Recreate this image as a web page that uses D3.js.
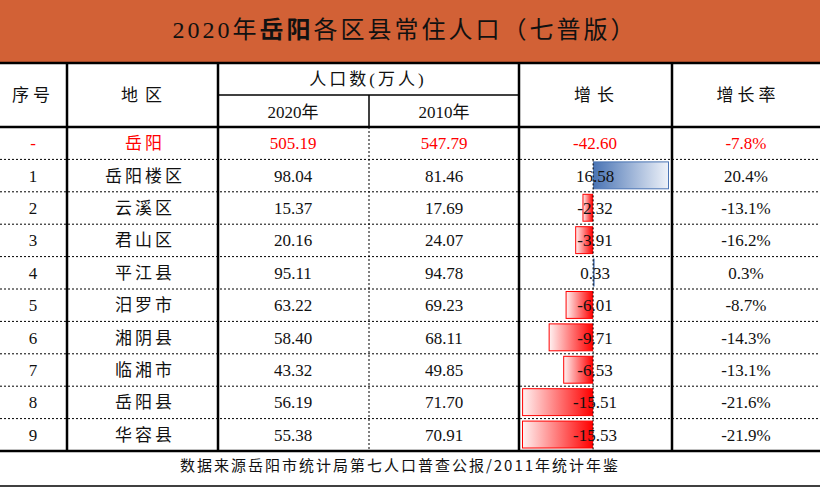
<!DOCTYPE html>
<html><head><meta charset="utf-8">
<script src="https://cdn.jsdelivr.net/npm/d3@7"></script>
<style>
html,body{margin:0;padding:0;background:#fff;}
svg{display:block;}
text{font-family:"Liberation Serif","Times New Roman","Noto Sans CJK SC",serif;}
</style></head>
<body>
<svg id="c" width="820" height="500"></svg>
<script>
const titlePrefix = "2020年";
const titleBold = "岳阳";
const titleSuffix = "各区县常住人口（七普版）";
const seq = ["-", "1", "2", "3", "4", "5", "6", "7", "8", "9"];
const regions = ["岳阳", "岳阳楼区", "云溪区", "君山区", "平江县", "汨罗市", "湘阴县", "临湘市", "岳阳县", "华容县"];
const pop2020 = ["505.19", "98.04", "15.37", "20.16", "95.11", "63.22", "58.40", "43.32", "56.19", "55.38"];
const pop2010 = ["547.79", "81.46", "17.69", "24.07", "94.78", "69.23", "68.11", "49.85", "71.70", "70.91"];
const growth = [-42.60, 16.58, -2.32, -3.91, 0.33, -6.01, -9.71, -6.53, -15.51, -15.53];
const rate = ["-7.8%", "20.4%", "-13.1%", "-16.2%", "0.3%", "-8.7%", "-14.3%", "-13.1%", "-21.6%", "-21.9%"];
const headers = {seq:"序号", region:"地区", pop:"人口数(万人)", y2020:"2020年", y2010:"2010年", growth:"增长", rate:"增长率"};
const footer = "数据来源岳阳市统计局第七人口普查公报/2011年统计年鉴";

const svg = d3.select("#c");
const W = 820;
const cjk = '"Noto Sans CJK SC","Liberation Serif",serif';
const serif = '"Liberation Serif","Noto Sans CJK SC",serif';

// defs gradients
const defs = svg.append("defs");
const gp = defs.append("linearGradient").attr("id","gPos").attr("x1","0").attr("x2","1").attr("y1","0").attr("y2","0");
gp.append("stop").attr("offset","0%").attr("stop-color","#4a74b4");
gp.append("stop").attr("offset","100%").attr("stop-color","#eef2f9");
const gn = defs.append("linearGradient").attr("id","gNeg").attr("x1","0").attr("x2","1").attr("y1","0").attr("y2","0");
gn.append("stop").attr("offset","0%").attr("stop-color","#fff2f2");
gn.append("stop").attr("offset","100%").attr("stop-color","#ff0000");

// title band
svg.append("rect").attr("x",0).attr("y",0).attr("width",W).attr("height",62).attr("fill","#d26136");
const tt = svg.append("text").attr("x",405).attr("y",38).attr("text-anchor","middle")
  .attr("font-size",24).attr("fill","#111").style("letter-spacing","3px");
tt.append("tspan").style("font-family",serif).text(titlePrefix);
tt.append("tspan").style("font-family",cjk).attr("font-weight","bold").text(titleBold);
tt.append("tspan").style("font-family",cjk).text(titleSuffix);

// columns
const cols = {x0:0, x1:67, x2:218, x3:369, x4:519, x5:672, x6:820};
const cx = {seq:33, region:143, y2020:293, y2010:444, growth:595, rate:746};

// rows
const y = d3.scaleBand().domain(d3.range(regions.length)).range([127, 451]).padding(0);

// growth scale (exclude the total row)
const gvals = growth.slice(1);
const xg = d3.scaleLinear().domain([d3.min(gvals), d3.max(gvals)]).range([522, 669]);

const grid = svg.append("g");
for (let i = 1; i < regions.length; i++) {
  grid.append("line").attr("x1",0).attr("x2",W).attr("y1",y(i)).attr("y2",y(i))
    .attr("stroke","#000").attr("stroke-width",1).attr("stroke-dasharray","2,2");
}
grid.append("line").attr("x1",cols.x3).attr("x2",cols.x3).attr("y1",127).attr("y2",451)
  .attr("stroke","#000").attr("stroke-width",1).attr("stroke-dasharray","2,2");

// bars
const bars = svg.append("g");
growth.forEach((v,i) => {
  if (i === 0) return;
  const x0 = xg(0), x1 = xg(v);
  const bx = Math.min(x0,x1), bw = Math.max(1.5, Math.abs(x1-x0));
  bars.append("rect").attr("x",bx+0.5).attr("y",y(i)+2.5).attr("width",bw-1).attr("height",y.bandwidth()-5.5)
    .attr("fill", v>=0 ? "url(#gPos)" : "url(#gNeg)")
    .attr("stroke", v>=0 ? "#4a74b4" : "#ff0000").attr("stroke-width",1);
});
svg.append("line").attr("x1",xg(0)).attr("x2",xg(0)).attr("y1",y(1)).attr("y2",451)
  .attr("stroke","#000").attr("stroke-width",1).attr("stroke-dasharray","2,2");

// solid lines
const solid = svg.append("g").attr("stroke","#000");
solid.append("line").attr("x1",0).attr("x2",W).attr("y1",63).attr("y2",63).attr("stroke-width",2.5);
solid.append("line").attr("x1",0).attr("x2",W).attr("y1",127).attr("y2",127).attr("stroke-width",2.5);
solid.append("line").attr("x1",0).attr("x2",W).attr("y1",451).attr("y2",451).attr("stroke-width",2.5);
solid.append("line").attr("x1",cols.x2).attr("x2",cols.x4).attr("y1",95).attr("y2",95).attr("stroke-width",1.5);
solid.append("line").attr("x1",cols.x3).attr("x2",cols.x3).attr("y1",95).attr("y2",127).attr("stroke-width",1.5);
[cols.x1, cols.x2, cols.x4, cols.x5].forEach(x => {
  solid.append("line").attr("x1",x).attr("x2",x).attr("y1",63).attr("y2",451).attr("stroke-width",2.5);
});
solid.append("line").attr("x1",0).attr("x2",W).attr("y1",486).attr("y2",486).attr("stroke-width",1.5);

// headers
const hdr = svg.append("g").attr("font-size",17).attr("fill","#111").attr("text-anchor","middle").style("font-family",cjk);
hdr.append("text").attr("x",cx.seq).attr("y",101).style("letter-spacing","4px").text(headers.seq);
hdr.append("text").attr("x",cx.region+2).attr("y",101).style("letter-spacing","7px").text(headers.region);
hdr.append("text").attr("x",368).attr("y",85).style("letter-spacing","3px").text(headers.pop);
hdr.append("text").attr("x",cx.y2020).attr("y",118).text(headers.y2020);
hdr.append("text").attr("x",cx.y2010).attr("y",118).text(headers.y2010);
hdr.append("text").attr("x",cx.growth+2).attr("y",101).style("letter-spacing","6px").text(headers.growth);
hdr.append("text").attr("x",cx.rate+2).attr("y",101).style("letter-spacing","4px").text(headers.rate);

// data rows
const fmt = v => v.toFixed(2);
const body = svg.append("g").attr("font-size",17).attr("text-anchor","middle");
regions.forEach((r,i) => {
  const col = i === 0 ? "#ff0000" : "#111";
  const by = y(i) + y.bandwidth()/2 + 6;
  body.append("text").attr("x",cx.seq).attr("y",by).attr("fill",col).style("font-family",serif).text(seq[i]);
  body.append("text").attr("x",cx.region+2).attr("y",by).attr("fill",col).style("font-family",cjk).style("letter-spacing","3px").text(r);
  body.append("text").attr("x",cx.y2020).attr("y",by).attr("fill",col).style("font-family",serif).text(pop2020[i]);
  body.append("text").attr("x",cx.y2010).attr("y",by).attr("fill",col).style("font-family",serif).text(pop2010[i]);
  body.append("text").attr("x",cx.growth).attr("y",by).attr("fill",col).style("font-family",serif).text(fmt(growth[i]));
  body.append("text").attr("x",cx.rate).attr("y",by).attr("fill",col).style("font-family",serif).text(rate[i]);
});

// footer
svg.append("text").attr("x",400).attr("y",471).attr("text-anchor","middle").attr("font-size",15)
  .attr("fill","#111").style("font-family",cjk).style("letter-spacing","2px").text(footer);
</script>
</body></html>
